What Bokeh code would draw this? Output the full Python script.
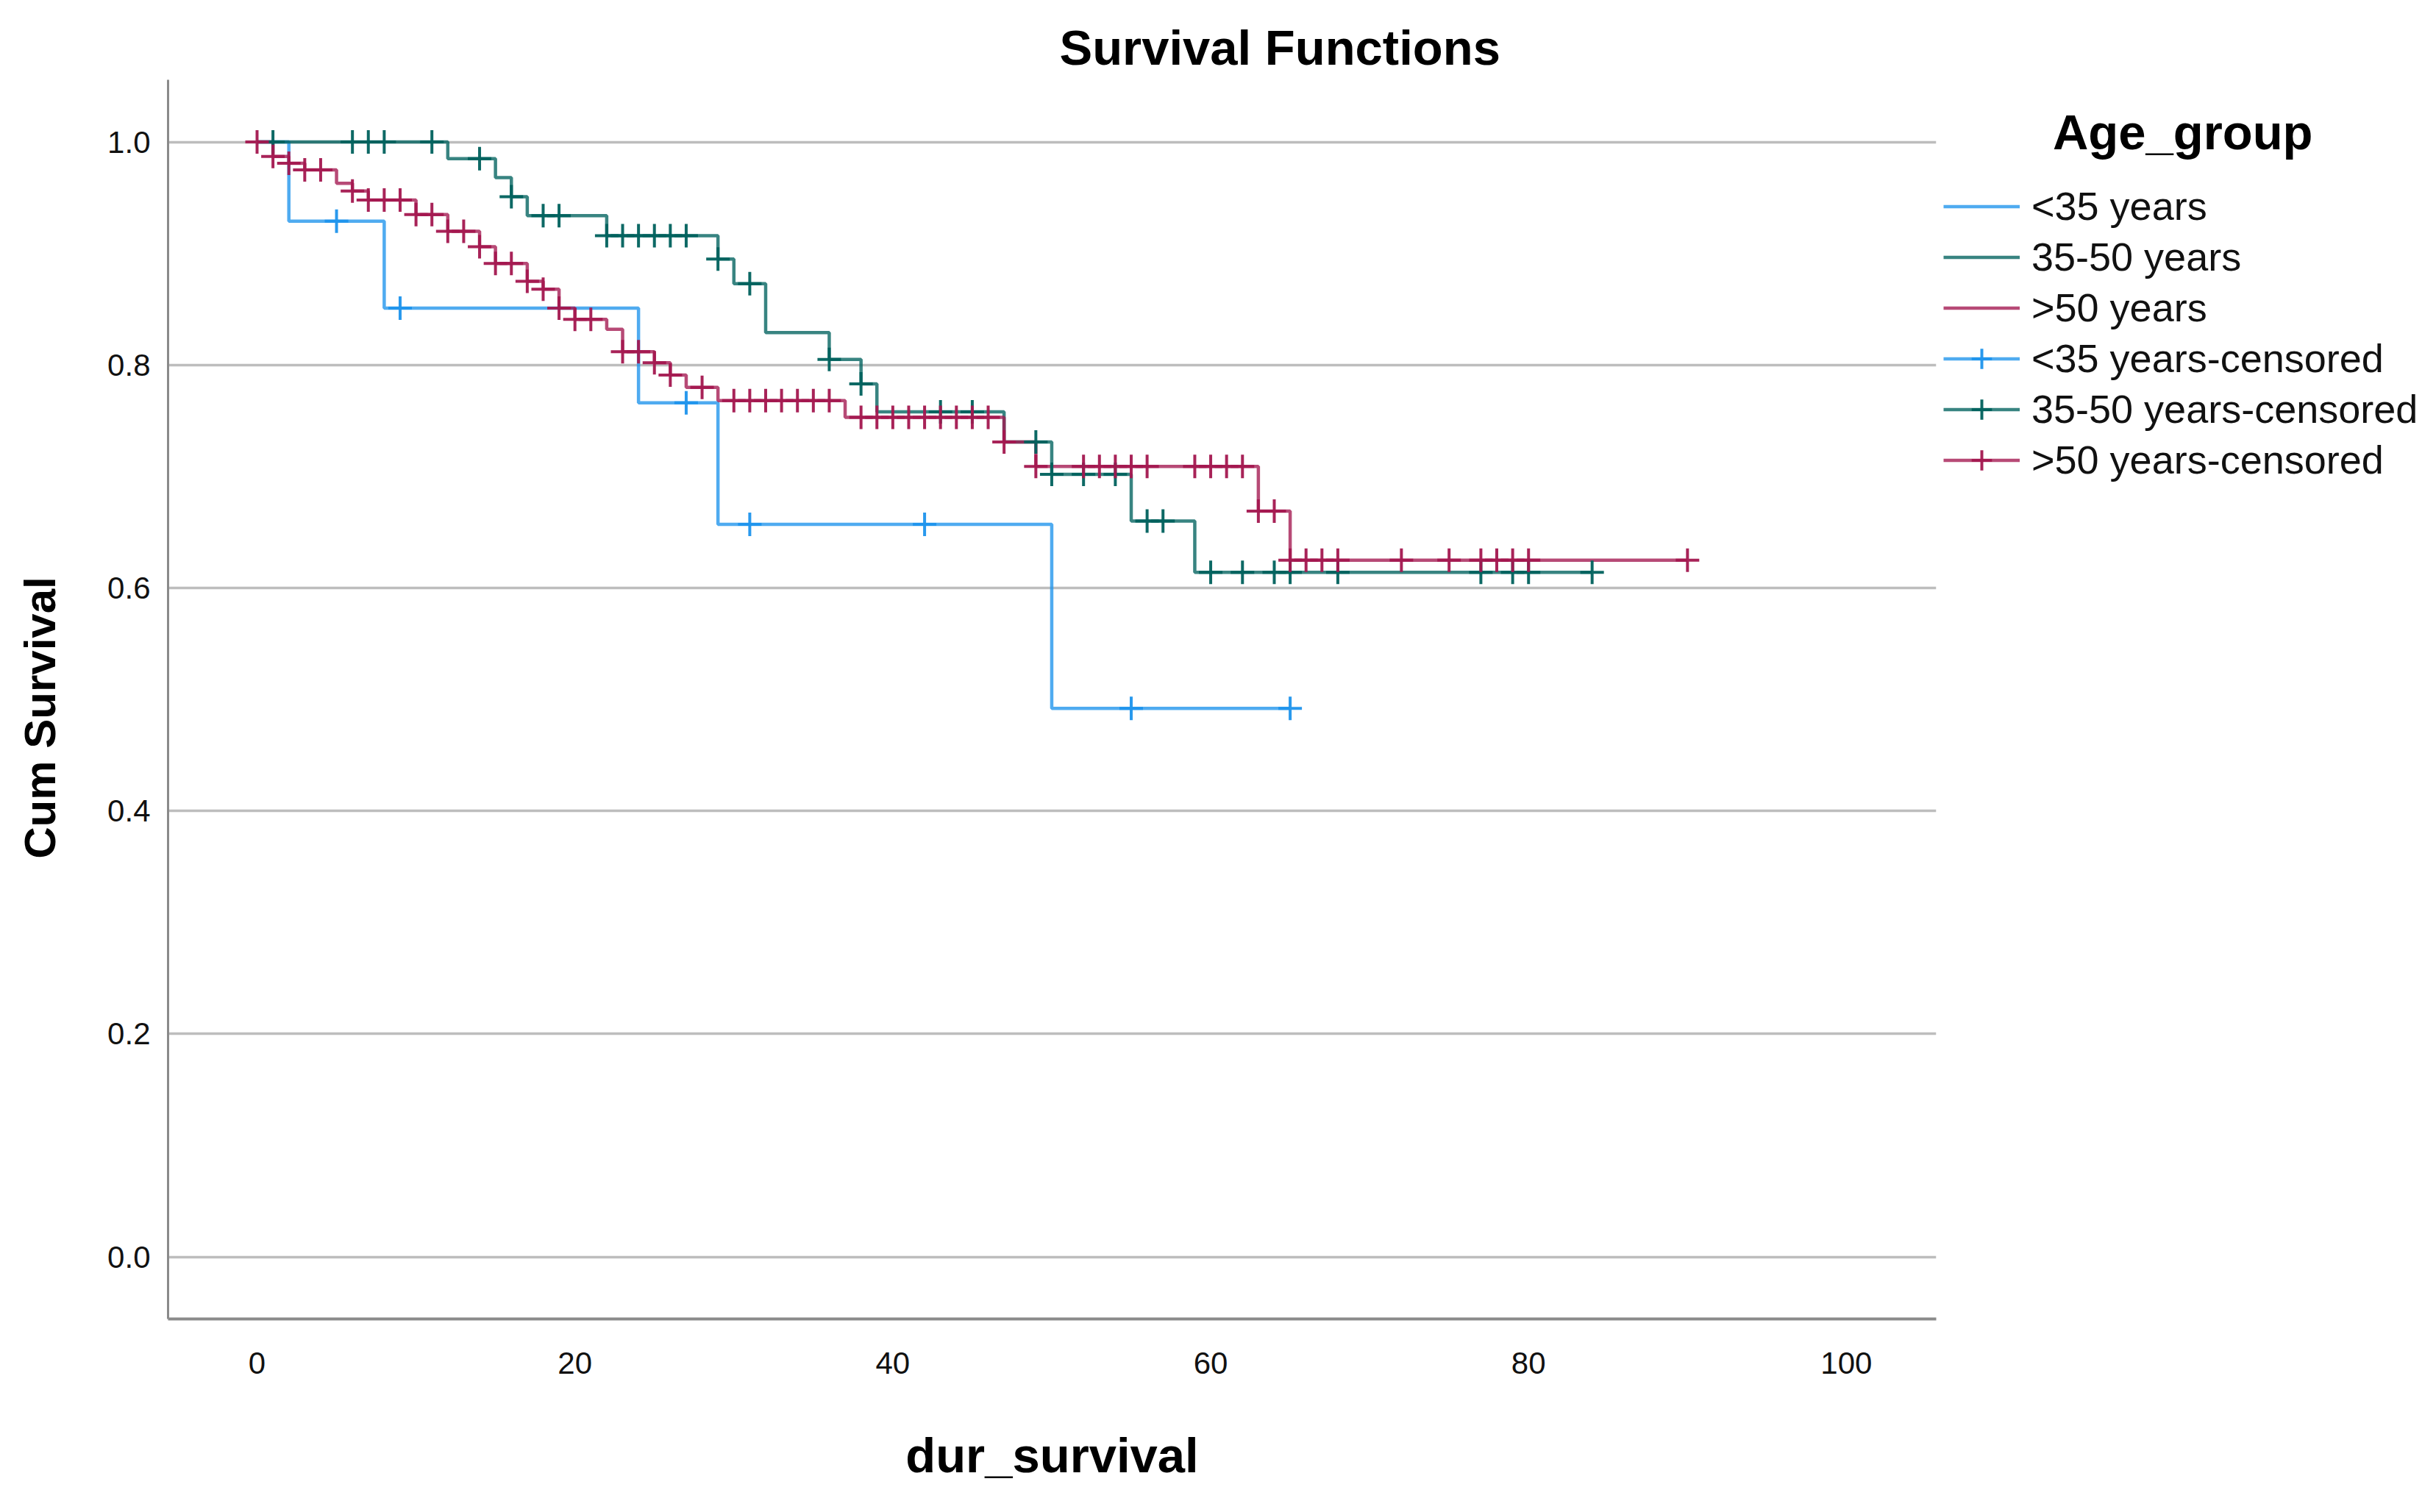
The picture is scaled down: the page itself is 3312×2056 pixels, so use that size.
import numpy as np
from bokeh.plotting import figure
from bokeh.models import Legend, LegendItem, FixedTicker, PrintfTickFormatter, ColumnDataSource
from bokeh.embed import file_html
from bokeh.resources import INLINE

# ---------------- data ----------------
group_names = ["<35 years", "35-50 years", ">50 years"]
legend_title = "Age_group"

# <35 years
young_time = [0, 2, 8, 24, 29, 50, 65]
young_surv = [1.0, 0.929, 0.851, 0.766, 0.657, 0.492, 0.492]
young_cens = [5, 9, 27, 31, 42, 55, 65]

# 35-50 years
mid_time = [0, 12, 15, 16, 17, 22, 29, 30, 32, 36, 38, 39, 47, 50, 55, 59, 84]
mid_surv = [1.0, 0.985, 0.968, 0.951, 0.934, 0.916, 0.895, 0.873, 0.829, 0.805,
            0.783, 0.758, 0.731, 0.702, 0.660, 0.614, 0.614]
mid_cens = [1, 6, 7, 8, 11, 14, 16, 18, 19, 22, 23, 24, 25, 26, 27, 29, 31, 36, 38,
            43, 45, 49, 50, 52, 54, 56, 57, 60, 62, 64, 65, 68, 77, 79, 80, 84]

# >50 years
old_time = [0, 1, 2, 3, 5, 6, 7, 10, 12, 14, 15, 17, 18, 19, 20, 22, 23, 25, 26, 27,
            29, 37, 47, 49, 63, 65, 90]
old_surv = [1.0, 0.987, 0.981, 0.975, 0.963, 0.956, 0.948, 0.935, 0.920, 0.906, 0.891,
            0.875, 0.868, 0.851, 0.841, 0.832, 0.812, 0.802, 0.791, 0.780, 0.768, 0.753,
            0.731, 0.709, 0.669, 0.625, 0.625]
old_cens = [0, 1, 2, 3, 4, 6, 7, 8, 9, 10, 11, 12, 13, 14, 15, 16, 17, 18, 19, 20, 21,
            23, 24, 25, 26, 28, 30, 31, 32, 33, 34, 35, 36, 38, 39, 40, 41, 42, 43, 44,
            45, 46, 47, 49, 52, 53, 54, 55, 56, 59, 60, 61, 62, 63, 64, 65, 66, 67, 68,
            72, 75, 77, 78, 79, 80, 90]

x_ticks = [0, 20, 40, 60, 80, 100]
y_ticks = [0.0, 0.2, 0.4, 0.6, 0.8, 1.0]

colors = ["#1e93ec", "#00615d", "#a3174f"]
FONT = "Liberation Sans"
NBSP = "\u00a0"


def surv_at(times, surv, pts):
    idx = np.searchsorted(np.asarray(times), np.asarray(pts), side="right") - 1
    return list(np.asarray(surv)[idx])


FRAME_W, FRAME_H = 2404, 1685
p = figure(frame_width=FRAME_W, frame_height=FRAME_H,
           min_border_left=228, min_border_right=664,
           min_border_top=108, min_border_bottom=247,
           x_range=(-5.6, 105.65), y_range=(-0.0556, 1.0558),
           output_backend="svg", toolbar_location=None)
p.outline_line_color = None
p.background_fill_color = "white"

# title
p.title.text = "Survival Functions"
p.title.align = "left"
p.title.offset = 1212
p.title.text_font = FONT
p.title.text_font_style = "bold"
p.title.text_font_size = "67px"
p.title.text_color = "#000000"
p.title.standoff = 14

# grid
p.xgrid.visible = False
p.ygrid.ticker = FixedTicker(ticks=y_ticks)
p.ygrid.grid_line_color = "#bdbdbd"
p.ygrid.grid_line_width = 3.5

# axes
p.xaxis.ticker = FixedTicker(ticks=x_ticks)
p.yaxis.ticker = FixedTicker(ticks=y_ticks)
p.yaxis.formatter = PrintfTickFormatter(format="%.1f")
for ax in (p.xaxis, p.yaxis):
    ax.major_tick_line_color = None
    ax.minor_tick_line_color = None
    ax.major_tick_out = 0
    ax.major_tick_in = 0
    ax.minor_tick_out = 0
    ax.axis_line_color = "#8a8a8a"
    ax.major_label_text_font = FONT
    ax.major_label_text_font_size = "42px"
    ax.major_label_text_color = "#111111"
    ax.axis_label_text_font = FONT
    ax.axis_label_text_font_style = "bold"
    ax.axis_label_text_color = "#000000"
p.xaxis.axis_line_width = 4
p.yaxis.axis_line_width = 3
p.xaxis.major_label_standoff = 45
p.yaxis.major_label_standoff = 24
p.xaxis.axis_label = "dur_survival"
# trailing no-break spaces move the rotated label slightly below the frame centre
p.yaxis.axis_label = "Cum Survival" + NBSP * 3
p.xaxis.axis_label_text_font_size = "67px"
p.yaxis.axis_label_text_font_size = "60px"
p.xaxis.axis_label_standoff = 70
p.yaxis.axis_label_standoff = 55

series = [(young_time, young_surv, young_cens),
          (mid_time, mid_surv, mid_cens),
          (old_time, old_surv, old_cens)]

step_r, cens_r = [], []
for (t, s, c), col in zip(series, colors):
    src = ColumnDataSource(dict(x=t, y=s))
    r = p.step("x", "y", source=src, mode="after", line_color=col,
               line_width=4.5, line_alpha=0.78)
    step_r.append(r)
for (t, s, c), col in zip(series, colors):
    csrc = ColumnDataSource(dict(x=c, y=surv_at(t, s, c)))
    m = p.scatter("x", "y", source=csrc, marker="cross", size=32,
                  line_color=col, line_width=4, line_alpha=0.95)
    cens_r.append(m)

items = []
for name, r in zip(group_names, step_r):
    items.append(LegendItem(label=name, renderers=[r]))
for name, r, m in zip(group_names, step_r, cens_r):
    items.append(LegendItem(label=name + "-censored", renderers=[r, m]))

ITEM_H = 69
n_items = len(items)
legend_h = ITEM_H * n_items
first_top = 245.5            # top of first legend row, px from top of figure
frame_top = 108
legend = Legend(items=items)
legend.location = (10, FRAME_H - (first_top - frame_top) - legend_h)
legend.margin = 0
legend.padding = 0
legend.border_line_color = None
legend.background_fill_alpha = 0
# heading indented with no-break spaces so it sits centred over the entries
legend.title = NBSP * 8 + legend_title
legend.title_text_font = FONT
legend.title_text_font_style = "bold"
legend.title_text_font_size = "67px"
legend.title_text_color = "#000000"
legend.title_standoff = 28
legend.label_text_font = FONT
legend.label_text_font_size = "54px"
legend.label_text_color = "#111111"
legend.glyph_width = 104
legend.glyph_height = ITEM_H
legend.label_height = ITEM_H
legend.spacing = 0
legend.label_standoff = 16
p.add_layout(legend, "right")

open("out.html", "w").write(file_html(p, INLINE))
